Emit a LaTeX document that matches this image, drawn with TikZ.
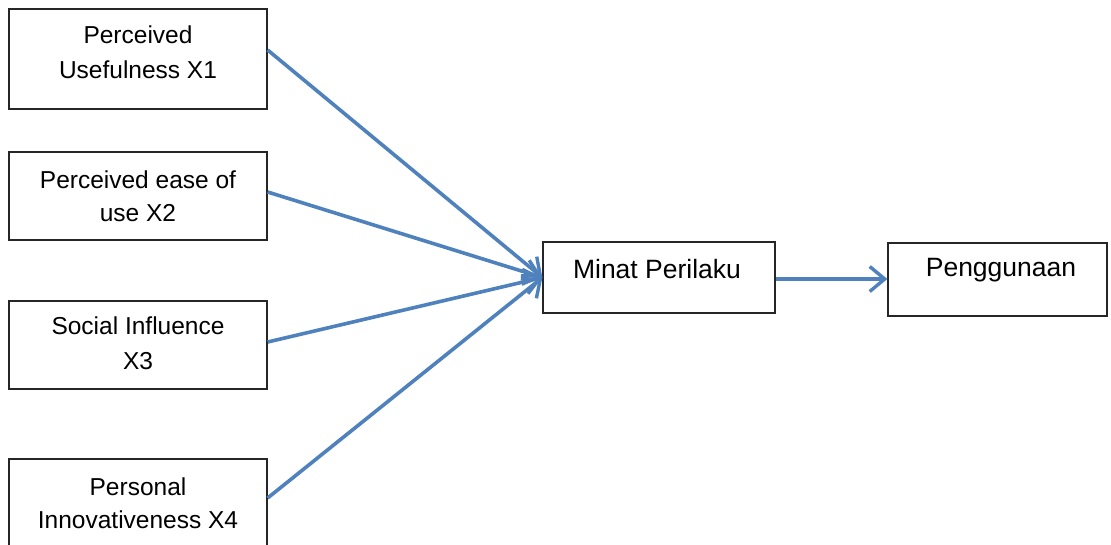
\documentclass[tikz,border=0pt]{standalone}
\usepackage{fontspec}
\setmainfont{Liberation Sans}
\usetikzlibrary{arrows.meta}
\definecolor{arrowblue}{HTML}{4F81BD}
\begin{document}
\begin{tikzpicture}[x=1pt,y=-1pt,
  boxstyle/.style={draw=black!85,line width=1.3pt,rectangle,inner sep=0pt},
  txtstyle/.style={inner sep=0pt,anchor=north,align=center},
  conn/.style={draw=arrowblue,line width=3.6pt,-{Straight Barb[length=15pt,width=25pt,line width=3.4pt]}}]
\useasboundingbox (0,0) rectangle (1111,544);
\clip (0,0) rectangle (1111,544);
\node[boxstyle,minimum width=258pt,minimum height=100pt] (b1) at (138,59) {};
\node[boxstyle,minimum width=258pt,minimum height=88pt] (b2) at (138,196) {};
\node[boxstyle,minimum width=258pt,minimum height=88pt] (b3) at (138,345) {};
\node[boxstyle,minimum width=258pt,minimum height=110pt] (b4) at (138,514) {};
\node[boxstyle,minimum width=232pt,minimum height=71pt] (m) at (659,277.5) {};
\node[boxstyle,minimum width=219pt,minimum height=73pt] (p) at (997.5,279.5) {};
\node[txtstyle,font=\fontsize{24.5}{34.5}\selectfont] (t1) at (138,23.3) {\rule{0pt}{20pt}Perceived\\Usefulness X1};
\node[txtstyle,font=\fontsize{24.5}{33.5}\selectfont] (t2) at (138,168) {\rule{0pt}{20pt}Perceived ease of\\use X2};
\node[txtstyle,font=\fontsize{24.5}{35}\selectfont] (t3) at (138,314) {\rule{0pt}{20pt}Social Influence\\X3};
\node[txtstyle,font=\fontsize{24.5}{33.5}\selectfont] (t4) at (138,475) {\rule{0pt}{20pt}Personal\\Innovativeness X4};
\node[txtstyle,font=\fontsize{26.5}{30}\selectfont] (tm) at (657,258) {\rule{0pt}{20pt}Minat Perilaku};
\node[txtstyle,font=\fontsize{26.5}{30}\selectfont] (tp) at (1001,256) {\rule{0pt}{20pt}Penggunaan};
\draw[conn] ([yshift=9pt]b1.east) -- (m.west);
\draw[conn] ([yshift=4pt]b2.east) -- (m.west);
\draw[conn] ([yshift=3pt]b3.east) -- (m.west);
\draw[conn] ([yshift=16pt]b4.east) -- (m.west);
\draw[conn] ([yshift=-1.5pt]m.east) -- ([yshift=0.5pt]p.west);
\end{tikzpicture}
\end{document}
